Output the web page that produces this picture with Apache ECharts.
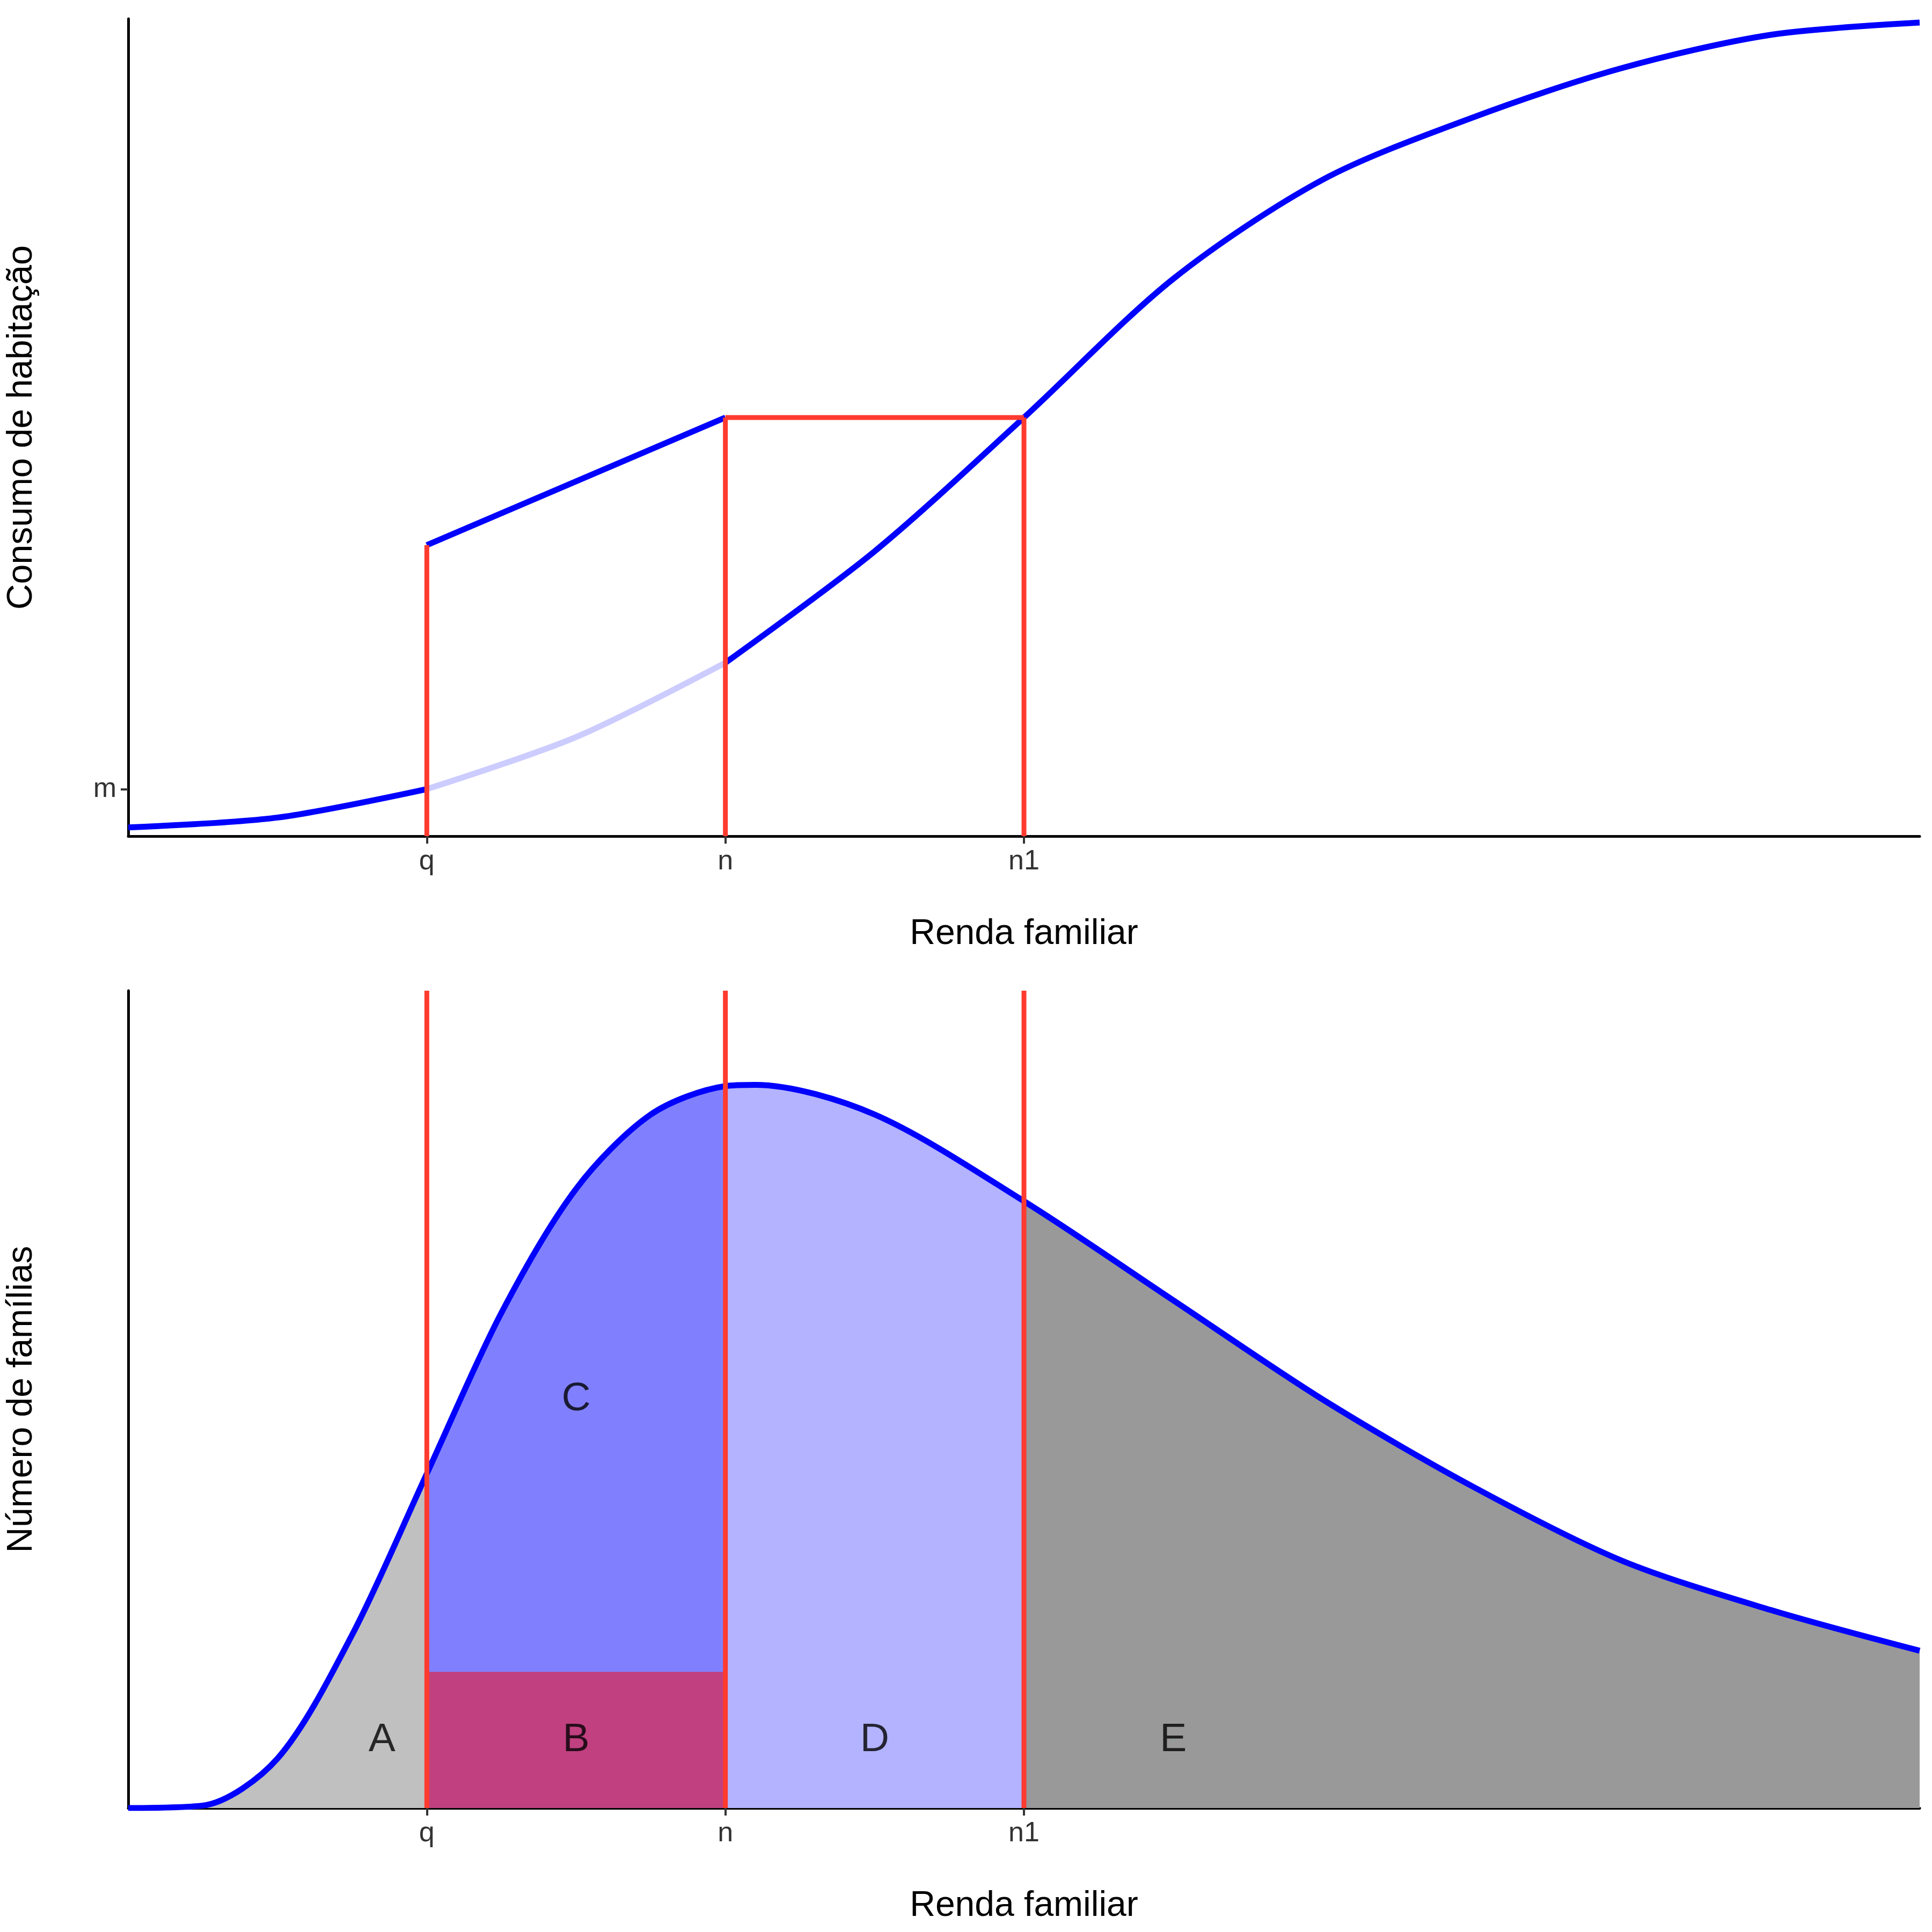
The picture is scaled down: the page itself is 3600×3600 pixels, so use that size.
<!DOCTYPE html>
<html><head><meta charset="utf-8">
<script src="https://cdn.jsdelivr.net/npm/echarts@6/dist/echarts.min.js"></script>
<style>html,body{margin:0;background:#fff}#c{width:3600px;height:3600px}</style>
</head><body><div id="c"></div>
<script>
const xTickValues=[1,2,3];
const xTickLabels=['q','n','n1'];
const consumoX=[0,0.5,1,1.5,2,2.5,3,3.5,4,4.5,5,5.5,6];
const consumoY=[7,15,38,80,140,230,338,450,530,580,620,647,657];
const pathQN=[[1,235],[2,338]];
const densX=[0,0.25,0.5,0.75,1,1.25,1.5,1.75,2,2.1,2.5,3,3.5,4,4.5,5,5.5,6];
const densY=[0,2,40,140,270,400,500,560,583,584,560,490,410,330,260,200,160,127];
const rectB=110;
const regionLabels=[['A',0.85,55],['B',1.5,55],['C',1.5,330],['D',2.5,55],['E',3.5,55]];

const font='Liberation Sans';
const cons=consumoX.map((x,i)=>[x,consumoY[i]]);
const dens=densX.map((x,i)=>[x,densY[i]]);
const sub=(d,a,b)=>d.filter(p=>p[0]>=a&&p[0]<=b);
const xAxisBase=(gi)=>({type:'value',gridIndex:gi,min:0,max:6,interval:1,
  name:'Renda familiar',nameLocation:'middle',nameGap:150,nameTextStyle:{fontFamily:font,fontSize:66,color:'#000'},
  axisLine:{lineStyle:{color:'#000',width:5}},splitLine:{show:false},
  axisTick:{customValues:xTickValues,length:14,lineStyle:{color:'#333',width:4}},
  axisLabel:{customValues:xTickValues,formatter:v=>xTickLabels[xTickValues.indexOf(v)]||'',fontFamily:font,fontSize:52,color:'#333',margin:22}});
const red={color:'#ff3b30',width:9};
const area=(d,c,gi,z)=>({type:'line',xAxisIndex:gi,yAxisIndex:gi,data:d,smooth:0.3,symbol:'none',lineStyle:{width:0},areaStyle:{color:c,opacity:1},z:z||1});
const vline=(x,top,gi)=>({type:'line',xAxisIndex:gi,yAxisIndex:gi,data:[[x,0],[x,top]],symbol:'none',lineStyle:red,z:5});
const opt={animation:false,backgroundColor:'#fff',
 grid:[{left:238,right:23,top:35,height:1523},{left:238,right:23,top:1846,height:1523}],
 xAxis:[xAxisBase(0),xAxisBase(1)],
 yAxis:[{type:'value',gridIndex:0,min:0,max:660,name:'Consumo de habitação',nameLocation:'middle',nameGap:165,nameTextStyle:{fontFamily:font,fontSize:66,color:'#000'},
   axisLine:{show:true,lineStyle:{color:'#000',width:5}},splitLine:{show:false},
   axisTick:{customValues:[38],length:14,lineStyle:{color:'#333',width:4}},
   axisLabel:{customValues:[38],formatter:()=>'m',fontFamily:font,fontSize:52,color:'#333',margin:22}},
  {type:'value',gridIndex:1,min:0,max:660,name:'Número de famílias',nameLocation:'middle',nameGap:165,nameTextStyle:{fontFamily:font,fontSize:66,color:'#000'},
   axisLine:{show:true,lineStyle:{color:'#000',width:5}},splitLine:{show:false},axisTick:{show:false},axisLabel:{show:false}}],
 series:[
  {type:'line',xAxisIndex:0,yAxisIndex:0,data:sub(cons,0,1),smooth:0.3,symbol:'none',lineStyle:{color:'#0000ff',width:11},z:3},
  {type:'line',xAxisIndex:0,yAxisIndex:0,data:sub(cons,1,2),smooth:0.3,symbol:'none',lineStyle:{color:'#ccccff',width:11},z:3},
  {type:'line',xAxisIndex:0,yAxisIndex:0,data:sub(cons,2,6),smooth:0.3,symbol:'none',lineStyle:{color:'#0000ff',width:11},z:3},
  {type:'line',xAxisIndex:0,yAxisIndex:0,data:pathQN,symbol:'none',lineStyle:{color:'#0000ff',width:11},z:3},
  vline(1,235,0),vline(2,338,0),vline(3,338,0),
  {type:'line',xAxisIndex:0,yAxisIndex:0,data:[[2,338],[3,338]],symbol:'none',lineStyle:red,z:5},
  area(sub(dens,0,1),'#c0c0c0',1),
  area(sub(dens,1,2),'#8080ff',1),
  area(sub(dens,2,3),'#b3b3ff',1),
  area(sub(dens,3,6),'#999999',1),
  {type:'line',xAxisIndex:1,yAxisIndex:1,data:[[1,rectB],[2,rectB]],symbol:'none',lineStyle:{width:0},areaStyle:{color:'#c04080',opacity:1},z:2},
  {type:'line',xAxisIndex:1,yAxisIndex:1,data:dens,smooth:0.3,symbol:'none',lineStyle:{color:'#0000ff',width:11},z:3},
  {type:'line',xAxisIndex:1,yAxisIndex:1,data:[[1,0],[1,660]],symbol:'none',lineStyle:red,z:5},
  {type:'line',xAxisIndex:1,yAxisIndex:1,data:[[2,0],[2,660]],symbol:'none',lineStyle:red,z:5},
  {type:'line',xAxisIndex:1,yAxisIndex:1,data:[[3,0],[3,660]],symbol:'none',lineStyle:red,z:5},
  {type:'scatter',xAxisIndex:1,yAxisIndex:1,symbolSize:0,z:6,data:regionLabels.map(r=>({value:[r[1],r[2]],name:r[0]})),
   label:{show:true,position:'inside',formatter:p=>p.name,fontFamily:font,fontSize:75,color:'#000'}}
 ]};
echarts.init(document.getElementById('c')).setOption(opt);
</script></body></html>
